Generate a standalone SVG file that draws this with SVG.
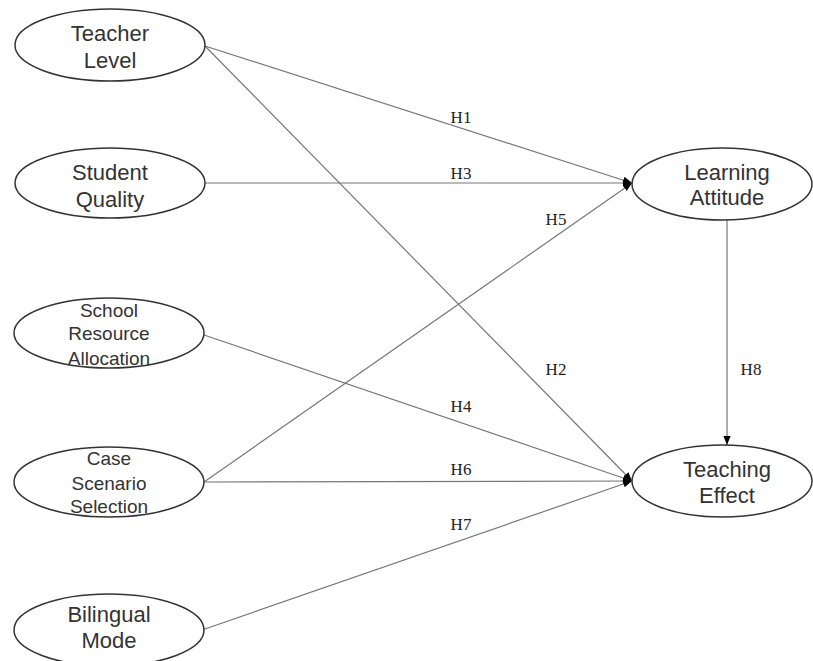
<svg xmlns="http://www.w3.org/2000/svg" width="813" height="661" viewBox="0 0 813 661">
<defs>
<marker id="arr" viewBox="0 0 10 10" refX="10" refY="5" markerWidth="9" markerHeight="9" markerUnits="userSpaceOnUse" orient="auto">
<path d="M0,1 L10,5 L0,9 Z" fill="#000"/>
</marker>
</defs>
<style>
.n ellipse{fill:#fff;stroke:#333;stroke-width:1.5}
.n text{font-family:"Liberation Sans",Arial,sans-serif;font-size:22px;fill:#333;text-anchor:middle}
.n text.s{font-size:19px}
.c line{stroke:#777;stroke-width:1.2;marker-end:url(#arr)}
.c text{font-family:"Liberation Serif","Times New Roman",serif;font-size:17px;fill:#222;text-anchor:middle}
</style>
<rect width="813" height="661" fill="#fff"/>
<g class="c" id="connectors">
<line x1="205" y1="46" x2="632" y2="183"/>
<line x1="205" y1="46" x2="632" y2="481"/>
<line x1="205" y1="183" x2="632" y2="183"/>
<line x1="204" y1="335" x2="632" y2="481"/>
<line x1="204" y1="482" x2="632" y2="183"/>
<line x1="204" y1="482" x2="632" y2="481"/>
<line x1="202" y1="630" x2="632" y2="481"/>
<line x1="727" y1="220" x2="727" y2="445"/>
<text x="461" y="123">H1</text>
<text x="461" y="179">H3</text>
<text x="556" y="225">H5</text>
<text x="556" y="375">H2</text>
<text x="751" y="375">H8</text>
<text x="461" y="412">H4</text>
<text x="461" y="475">H6</text>
<text x="461" y="530">H7</text>
</g>
<g class="n" id="teacher-level">
<ellipse cx="110" cy="45" rx="95" ry="36"/>
<text x="110" y="41">Teacher</text>
<text x="110" y="68">Level</text>
</g>
<g class="n" id="student-quality">
<ellipse cx="110" cy="183" rx="95" ry="35"/>
<text x="110" y="180">Student</text>
<text x="110" y="207">Quality</text>
</g>
<g class="n" id="school-resource-allocation">
<ellipse cx="109" cy="333" rx="95" ry="35"/>
<text class="s" x="109" y="317">School</text>
<text class="s" x="109" y="340">Resource</text>
<text class="s" x="109" y="365">Allocation</text>
</g>
<g class="n" id="case-scenario-selection">
<ellipse cx="109" cy="482" rx="95" ry="35"/>
<text class="s" x="109" y="465">Case</text>
<text class="s" x="109" y="490">Scenario</text>
<text class="s" x="109" y="513">Selection</text>
</g>
<g class="n" id="bilingual-mode">
<ellipse cx="109" cy="630" rx="95" ry="36"/>
<text x="109" y="622">Bilingual</text>
<text x="109" y="648">Mode</text>
</g>
<g class="n" id="learning-attitude">
<ellipse cx="722" cy="184" rx="90" ry="36"/>
<text x="727" y="180">Learning</text>
<text x="727" y="205">Attitude</text>
</g>
<g class="n" id="teaching-effect">
<ellipse cx="722" cy="481" rx="90" ry="36"/>
<text x="727" y="477">Teaching</text>
<text x="727" y="503">Effect</text>
</g>
</svg>
